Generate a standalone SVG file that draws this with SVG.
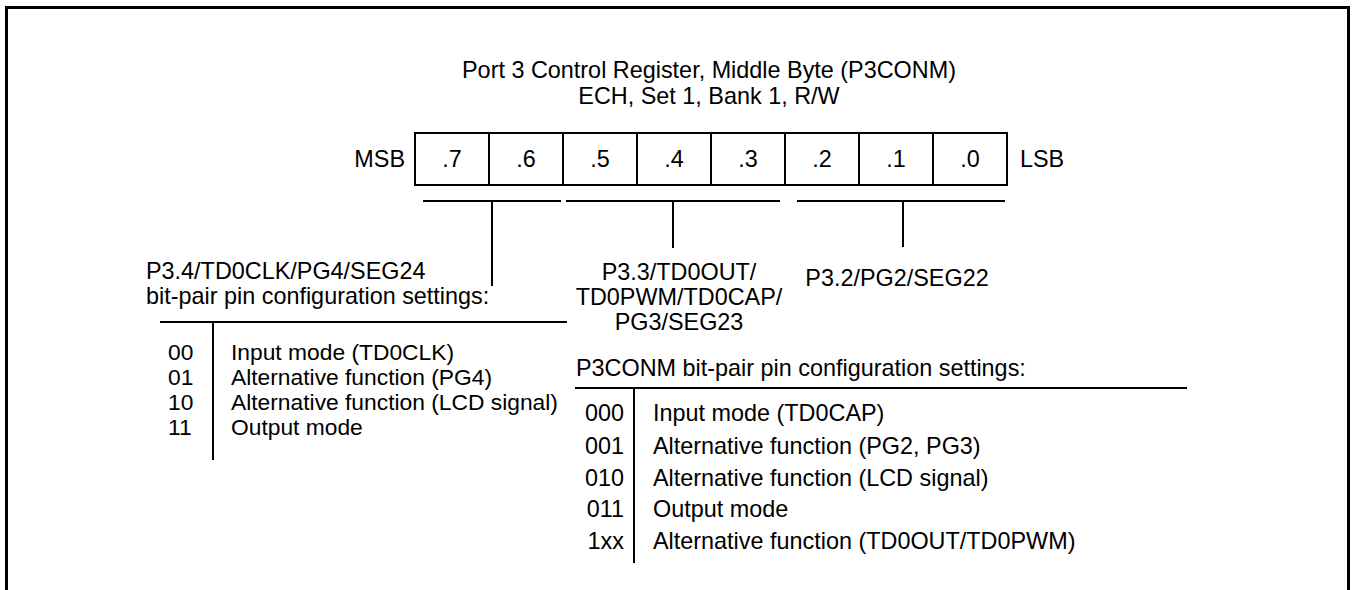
<svg xmlns="http://www.w3.org/2000/svg" width="1352" height="590" viewBox="0 0 1352 590">
<style>
text{font-family:"Liberation Sans",Arial,sans-serif;font-size:23.4px;fill:#000}
.c{text-anchor:middle}
.r{text-anchor:end}
.s{font-size:22.8px}
.ln{stroke:#000;stroke-width:2;fill:none}
.bd{stroke:#000;stroke-width:3;fill:none}
</style>
<rect width="1352" height="590" fill="#fff"/>
<g id="frame"><path class="bd" d="M6.5,600 V7.5 H1348.5 V600"/></g>
<g id="title">
<text class="c" x="709" y="78">Port 3 Control Register, Middle Byte (P3CONM)</text>
<text class="c" x="709" y="104">ECH, Set 1, Bank 1, R/W</text>
</g>
<g id="register">
<rect class="ln" x="415" y="133" width="592" height="52"/>
<path class="ln" d="M489,133V185M563,133V185M637,133V185M711,133V185M785,133V185M859,133V185M933,133V185"/>
<text class="r" x="405" y="167">MSB</text>
<text class="c" x="452" y="167">.7</text>
<text class="c" x="526" y="167">.6</text>
<text class="c" x="600" y="167">.5</text>
<text class="c" x="674" y="167">.4</text>
<text class="c" x="748" y="167">.3</text>
<text class="c" x="822" y="167">.2</text>
<text class="c" x="896" y="167">.1</text>
<text class="c" x="970" y="167">.0</text>
<text x="1020" y="167">LSB</text>
</g>
<g id="connectors">
<path class="ln" d="M423,201H561M492,201V286"/>
<path class="ln" d="M566,201H780M673,201V248"/>
<path class="ln" d="M797,201H1005M903,201V247"/>
</g>
<g id="pin34">
<text x="146" y="279">P3.4/TD0CLK/PG4/SEG24</text>
<text x="146" y="304">bit-pair pin configuration settings:</text>
<path class="ln" d="M160,322H567M213,322V460"/>
<text class="s" x="168" y="360">00</text>
<text class="s" x="231" y="360">Input mode (TD0CLK)</text>
<text class="s" x="168" y="385">01</text>
<text class="s" x="231" y="385">Alternative function (PG4)</text>
<text class="s" x="168" y="410">10</text>
<text class="s" x="231" y="410">Alternative function (LCD signal)</text>
<text class="s" x="168" y="435">11</text>
<text class="s" x="231" y="435">Output mode</text>
</g>
<g id="pin33">
<text class="c" x="679" y="280">P3.3/TD0OUT/</text>
<text class="c" x="679" y="305">TD0PWM/TD0CAP/</text>
<text class="c" x="679" y="330">PG3/SEG23</text>
</g>
<g id="pin32">
<text class="c" x="897" y="286">P3.2/PG2/SEG22</text>
</g>
<g id="p3conm">
<text x="576" y="376">P3CONM bit-pair pin configuration settings:</text>
<path class="ln" d="M575,388H1187M634,388V563"/>
<text class="r" x="624" y="421">000</text>
<text x="653" y="421">Input mode (TD0CAP)</text>
<text class="r" x="624" y="454">001</text>
<text x="653" y="454">Alternative function (PG2, PG3)</text>
<text class="r" x="624" y="486">010</text>
<text x="653" y="486">Alternative function (LCD signal)</text>
<text class="r" x="624" y="517">011</text>
<text x="653" y="517">Output mode</text>
<text class="r" x="624" y="549">1xx</text>
<text x="653" y="549">Alternative function (TD0OUT/TD0PWM)</text>
</g>
</svg>
